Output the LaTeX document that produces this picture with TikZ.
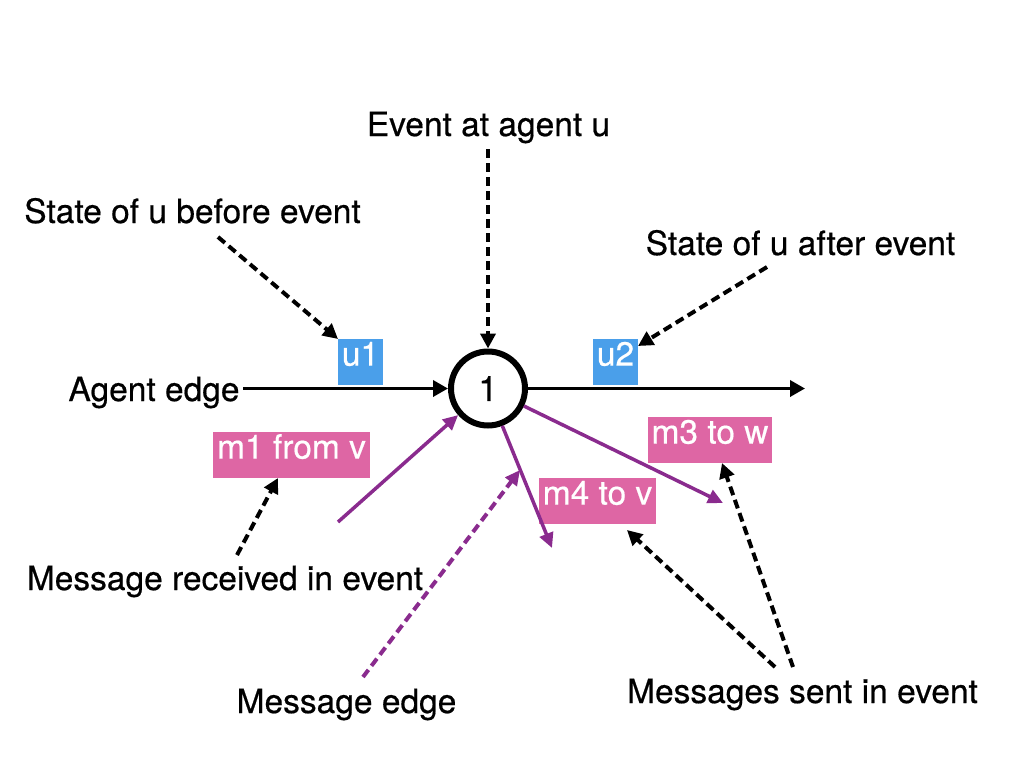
\documentclass[tikz,border=0pt]{standalone}
\usepackage{fontspec}
\setmainfont{TeX Gyre Heros}[FakeBold=0.5]
\usetikzlibrary{arrows.meta}
\definecolor{boxblue}{HTML}{4A9FEA}
\definecolor{boxpink}{HTML}{DE66A4}
\definecolor{msgpurple}{HTML}{8A2B8E}
\begin{document}
\begin{tikzpicture}[x=1pt,y=-1pt,
  font=\fontsize{33.5}{40}\selectfont,
  lbl/.style={inner sep=0pt, anchor=base},
  tagbox/.style={inner xsep=4pt, inner ysep=0pt, text=white, minimum height=46pt,
    text height=0.72em, text depth=0pt, anchor=center},
  bluebox/.style={tagbox, fill=boxblue},
  pinkbox/.style={tagbox, fill=boxpink},
  solidarrow/.style={line width=3.5pt, -{Triangle[length=15pt,width=16pt]}},
  dasharrow/.style={line width=4pt, dash pattern=on 9pt off 5pt, -{Triangle[length=15pt,width=15pt]}},
  msgarrow/.style={msgpurple, line width=3.5pt, -{Triangle[length=15pt,width=14pt]}},
  msgdash/.style={msgpurple, line width=4pt, dash pattern=on 9pt off 5pt, -{Triangle[length=15pt,width=14pt]}},
]
\useasboundingbox (0,0) rectangle (1024,768);

% event node
\node[circle, draw, line width=6pt, minimum size=74pt, inner sep=0pt, font=\fontsize{35}{40}\selectfont] (ev) at (488,388.5) {1};

% text labels
\node[lbl] (evl) at (488.5,136) {Event at agent u};
\node[lbl] (sb) at (192.5,223) {State of u before event};
\node[lbl] (sa) at (800.5,255) {State of u after event};
\node[lbl] (ae) at (154,401) {Agent edge};
\node[lbl] (mr) at (225,590) {Message received in event};
\node[lbl] (me) at (346.5,713) {Message edge};
\node[lbl] (ms) at (802.5,703) {Messages sent in event};

% boxes
\node[bluebox] (u1) at (360.5,362) {u1};
\node[bluebox] (u2) at (615.5,362) {u2};
\node[pinkbox] (m1) at (291.5,455) {m1 from v};
\node[pinkbox] (m4) at (597.5,501) {m4 to v};
\node[pinkbox] (m3) at (710,440) {m3 to w};

% coordinates
\coordinate (evtop) at (488,149);
\coordinate (sbs) at (218,237);
\coordinate (sbe) at (338,339);
\coordinate (sas) at (767,267);
\coordinate (sae) at (638,346);
\coordinate (aee) at (805,388.5);
\coordinate (m1s) at (338,522);
\coordinate (mrs) at (237,555);
\coordinate (mre) at (278,478);
\coordinate (mes) at (363,677);
\coordinate (mee) at (520,470);
\coordinate (m4e) at (552,548);
\coordinate (m3e) at (723,503);
\coordinate (ms1) at (775,667);
\coordinate (ms2) at (793,667);
\coordinate (ms1e) at (627,530);
\coordinate (ms2e) at (722,463);

% agent edges
\draw[solidarrow] (243,388.5) -- (ev.west);
\draw[solidarrow] (ev.east) -- (aee);

% dashed annotation arrows
\draw[dasharrow] (evtop) -- (ev.north);
\draw[dasharrow] (sbs) -- (sbe);
\draw[dasharrow] (sas) -- (sae);
\draw[dasharrow] (mrs) -- (mre);
\draw[dasharrow] (ms1) -- (ms1e);
\draw[dasharrow] (ms2) -- (ms2e);

% message edges
\draw[msgarrow] (m1s) -- (ev);
\draw[msgarrow] (ev.-69) -- (m4e);
\draw[msgarrow] (ev.-26.6) -- (m3e);
\draw[msgdash] (mes) -- (mee);
\end{tikzpicture}
\end{document}
